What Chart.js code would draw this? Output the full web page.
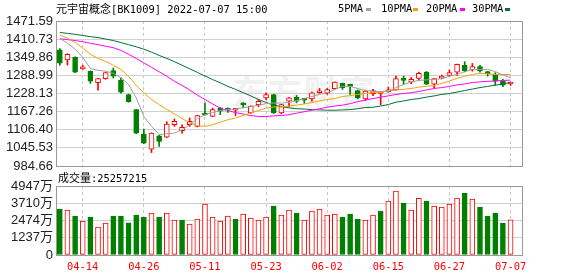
<!DOCTYPE html>
<html>
<head>
<meta charset="utf-8">
<script src="https://cdn.jsdelivr.net/npm/chart.js@4/dist/chart.umd.min.js"></script>
<style>
  body { margin: 0; background: #fff; }
  #wrap { position: relative; width: 578px; height: 276px; overflow: hidden; font-family: "DejaVu Sans Mono", "Noto Sans CJK SC", monospace; color: #000; }
  canvas { position: absolute; left: 0; }
  #main { top: 0; }
  #vol { top: 170px; }
  .txt { position: absolute; white-space: nowrap; font-size: 10.4px; line-height: 12px; }
  .cjk { font-family: "Noto Sans CJK SC"; font-size: 11px; }
  .sq { position: absolute; width: 5px; height: 3px; }
  #wm { position: absolute; left: 232px; top: 66px; font: bold 34px "Noto Sans CJK SC"; color: #f1f1f1; letter-spacing: 2px; }
</style>
</head>
<body>
<div id="wrap">
  <div id="wm">东方财富</div>
  <canvas id="main" width="578" height="180"></canvas>
  <canvas id="vol" width="578" height="106"></canvas>
  <div class="txt" style="left:56px;top:2px"><span class="cjk">元宇宙概念</span>[BK1009] 2022-07-07 15:00</div>
  <div class="txt" style="left:338px;top:2px">5PMA</div>
  <div class="sq" style="left:366px;top:8px;background:#a0a0a0"></div>
  <div class="txt" style="left:381px;top:2px">10PMA</div>
  <div class="sq" style="left:413px;top:8px;background:#f0a30a"></div>
  <div class="txt" style="left:426px;top:2px">20PMA</div>
  <div class="sq" style="left:460px;top:8px;background:#ff00ff"></div>
  <div class="txt" style="left:472px;top:2px">30PMA</div>
  <div class="sq" style="left:505px;top:8px;background:#006f3a"></div>
  <div class="txt" style="left:58px;top:171px"><span class="cjk">成交量</span>:25257215</div>
</div>
<script>
// trading days shown on the chart
const dates = [
  "04-11","04-12","04-13","04-14","04-15","04-18","04-19","04-20","04-21","04-22",
  "04-25","04-26","04-27","04-28","04-29","05-05","05-06","05-09","05-10","05-11",
  "05-12","05-13","05-16","05-17","05-18","05-19","05-20","05-23","05-24","05-25",
  "05-26","05-27","05-30","05-31","06-01","06-02","06-06","06-07","06-08","06-09",
  "06-10","06-13","06-14","06-15","06-16","06-17","06-20","06-21","06-22","06-23",
  "06-24","06-27","06-28","06-29","06-30","07-01","07-04","07-05","07-06","07-07"
];

const openP = [1374.5,1340.8,1349.8,1311,1302.5,1264.3,1277.9,1304.9,1273,1224.8,
  1174,1091.8,1041,1086,1081.7,1123.4,1103,1123.4,1117.6,1159,
  1151.4,1179.8,1176,1172,1195,1162.8,1190.7,1213.5,1224.8,1162.8,
  1202,1215.6,1209.8,1210,1230.5,1229.5,1244,1262,1255,1238.3,
  1210,1227.3,1228,1234,1240,1277.9,1266,1278.8,1300,1259.5,
  1280,1289,1300,1322.8,1307,1318.4,1301.5,1292.4,1269.7,1260];
const highP = [1379,1362,1351,1323,1304,1279,1299,1313.7,1281,1226,
  1175,1108.7,1096,1088,1133.5,1142.6,1123.3,1146,1155,1196.7,
  1179,1181,1180,1175,1198,1187,1208,1230,1226,1192,
  1215,1221.4,1211,1233,1245,1245,1267,1263,1257,1240,
  1238,1242,1231,1249.6,1286.6,1286.6,1282,1300,1302,1278,
  1290,1307,1327,1335,1329,1323,1302,1298,1275.5,1266];
const lowP = [1322.8,1323.8,1298,1309,1262,1239,1276,1280,1229,1199,
  1093,1060,1029.7,1050,1080,1117.6,1095,1117.6,1116,1155,
  1150,1157,1165,1154,1180,1161,1184,1207,1161,1160,
  1185,1196.7,1195,1202,1229,1225,1243,1241.7,1225,1210,
  1205,1221,1190.7,1232,1239,1258.6,1261,1273,1258,1247.4,
  1277,1288,1289,1301,1303,1300,1286.6,1256,1250.8,1255];
const closeP = [1329.6,1360,1300,1313,1269.7,1277.9,1298,1286.6,1232.5,1200,
  1095,1061,1095,1067,1125.7,1134.6,1114.2,1134.6,1153.7,1156,
  1174,1168.5,1172,1174,1190,1185.3,1202,1224.8,1162.8,1190.9,
  1213.5,1202,1206,1230.5,1236,1241.7,1266.3,1247.4,1252,1213.5,
  1236,1238.3,1230.5,1236,1277.9,1272,1275.5,1295.6,1259.5,1277.9,
  1286.6,1298,1326,1303.6,1318.4,1303.6,1295,1269.7,1256,1262.5];

const ma5 = [1413,1397,1377,1350,1312,1306,1303,1296,1281,1258.5,
  1213.5,1151,1118,1090,1093,1095,1106.4,1123,1144,1157,
  1164,1171,1174,1176,1181,1184,1189,1194,1196,1196,
  1198,1204,1211,1218,1225,1230.5,1242,1252,1252,1245,
  1238,1235,1235,1236,1248,1258.5,1267,1272,1274,1275.5,
  1278,1286,1292,1301,1309,1309,1309,1302,1290,1281];
const ma10 = [1424,1414,1400,1380,1360,1346,1336,1323,1309,1286,
  1255,1231,1208,1191,1174,1160,1144,1130,1120,1118,
  1123,1132,1140,1146,1154,1163,1171,1179,1183,1183,
  1186,1189,1193,1198,1203,1208,1211,1218,1221,1225,
  1228,1231,1233,1236,1240,1242,1245,1249.5,1252,1255,
  1262,1270,1279,1286,1292,1296,1294,1292,1292,1292];
const ma20 = [1412,1409,1406,1402,1397,1392,1387,1382,1373,1360,
  1346,1331,1316,1301,1286,1269,1255,1240,1223,1208,
  1193,1179,1171,1164,1159,1154,1151,1151,1153,1154,
  1157,1162,1167,1172,1177,1182,1186,1189,1194,1201,
  1206,1211,1216,1220,1225,1228,1231,1235,1240,1245,
  1248,1252,1257,1260,1265,1267,1269,1270,1272,1273];
const ma30 = [1433,1430,1427,1423,1419,1416,1411,1406,1399,1392,
  1385,1377,1367,1356,1346,1335,1323,1311,1299,1287,
  1275,1264,1252,1242,1231,1220,1208,1198,1189,1184,
  1180,1177,1176,1174,1173,1172,1172,1173,1174,1177,
  1181,1182,1186,1191,1199,1203,1208,1211,1216,1220,
  1225,1228,1233,1238,1243,1248,1252,1256,1260,1266];

// volume in 万 (10k)
const volume = [3290,3218,2786,2426,2714,1994,2282,2786,2786,2306,
  2858,2714,3002,2714,3002,2498,2498,2210,2570,3650,
  2714,2426,2786,2570,2930,2642,2498,2714,3506,2858,
  3218,3002,2498,3146,3290,2858,2930,2714,2930,2570,
  2498,2858,3146,3866,4586,3722,3218,4058,3866,3506,
  3434,3650,4082,4442,4010,3434,2786,3002,2282,2526];
// 1 = up day (red), 0 = down day (green)
const volUp = [0,1,0,1,0,1,1,0,0,0, 0,0,1,0,1,1,0,1,1,1,
  1,1,1,0,1,1,1,1,0,1, 1,0,1,1,1,1,1,0,0,0,
  1,1,0,1,1,0,1,1,0,1, 1,1,1,0,1,0,0,0,0,1];

const priceTicks = [984.66,1045.53,1106.40,1167.26,1228.13,1288.99,1349.86,1410.73,1471.59];
const volTicks = [0,1237,2474,3710,4947];
const dateTickIdx = [3,11,19,27,35,43,51,59];

const RED = "#ff0000";
const GREEN = "#008000";
const isUp = i => closeP[i] >= openP[i];

// gray frame round the plot area, drawn over the bars
const framePlugin = {
  id: "frame",
  afterDatasetsDraw(chart) {
    const { ctx, chartArea: a } = chart;
    ctx.save();
    ctx.strokeStyle = "#999";
    ctx.lineWidth = 1;
    ctx.strokeRect(Math.round(a.left) + 0.5, Math.round(a.top) + 0.5,
      Math.round(a.right - a.left), Math.round(a.bottom - a.top));
    ctx.restore();
  }
};

function xAxis(showLabels) {
  return {
    type: "linear",
    min: -0.5,
    max: 60.5,
    offset: false,
    afterBuildTicks: s => { s.ticks = dateTickIdx.map(v => ({ value: v })); },
    afterFit: s => { s.height = showLabels ? 21 : 14; },
    grid: { color: "#c8c8c8", offset: false, drawTicks: false },
    border: { display: false, dash: [3, 3] },
    ticks: {
      display: showLabels,
      padding: 6,
      color: RED,
      font: { family: "DejaVu Sans Mono", size: 10.4 },
      maxRotation: 0,
      autoSkip: false,
      callback: v => dates[v]
    }
  };
}

function yAxis(min, max, tickVals, fmt) {
  return {
    min: min,
    max: max,
    afterBuildTicks: s => { s.ticks = tickVals.map(v => ({ value: v })); },
    afterFit: s => { s.width = 56; },
    grid: { color: "#d0d0d0", drawTicks: false },
    border: { display: false },
    ticks: {
      padding: 3,
      autoSkip: false,
      color: "#222",
      font: { family: "Liberation Sans, Noto Sans CJK SC", size: 13 },
      callback: fmt
    }
  };
}

function lineSet(data, color) {
  return {
    type: "line",
    data: data.map((v, i) => ({ x: i, y: v })),
    borderColor: color,
    borderWidth: 1,
    pointRadius: 0,
    tension: 0,
    order: 0
  };
}

const idx = dates.map((d, i) => i);

new Chart(document.getElementById("main"), {
  type: "bar",
  data: {
    datasets: [
      {
        // wicks
        data: idx.map(i => ({ x: i, y: [lowP[i], highP[i]] })),
        backgroundColor: c => isUp(c.dataIndex) ? RED : GREEN,
        barThickness: 1,
        grouped: false,
        order: 2
      },
      {
        // bodies
        data: idx.map(i => ({ x: i, y: [openP[i], closeP[i]] })),
        backgroundColor: c => isUp(c.dataIndex) ? "#fff" : GREEN,
        borderColor: c => isUp(c.dataIndex) ? RED : GREEN,
        borderWidth: 1,
        borderSkipped: false,
        barThickness: 5,
        minBarLength: 2,
        grouped: false,
        order: 1
      },
      lineSet(ma5, "#a0a0a0"),
      lineSet(ma10, "#f0a30a"),
      lineSet(ma20, "#ff00ff"),
      lineSet(ma30, "#006f3a")
    ]
  },
  options: {
    responsive: false,
    animation: false,
    devicePixelRatio: 1,
    layout: { padding: { top: 21, right: 56, left: 0, bottom: 0 } },
    plugins: { legend: { display: false }, tooltip: { enabled: false } },
    scales: {
      x: xAxis(false),
      y: yAxis(984.66, 1471.59, priceTicks, v => v.toFixed(2))
    }
  },
  plugins: [framePlugin]
});

new Chart(document.getElementById("vol"), {
  type: "bar",
  data: {
    datasets: [{
      data: idx.map(i => ({ x: i, y: volume[i] })),
      backgroundColor: c => volUp[c.dataIndex] ? "#fff" : GREEN,
      borderColor: c => volUp[c.dataIndex] ? RED : GREEN,
      borderWidth: 1,
      borderSkipped: false,
      barThickness: 5,
      grouped: false
    }]
  },
  options: {
    responsive: false,
    animation: false,
    devicePixelRatio: 1,
    layout: { padding: { top: 16, right: 56, left: 0, bottom: 0 } },
    plugins: { legend: { display: false }, tooltip: { enabled: false } },
    scales: {
      x: xAxis(true),
      y: yAxis(0, 4947, volTicks, v => v === 0 ? "0" : v + "万")
    }
  },
  plugins: [framePlugin]
});
</script>
</body>
</html>
